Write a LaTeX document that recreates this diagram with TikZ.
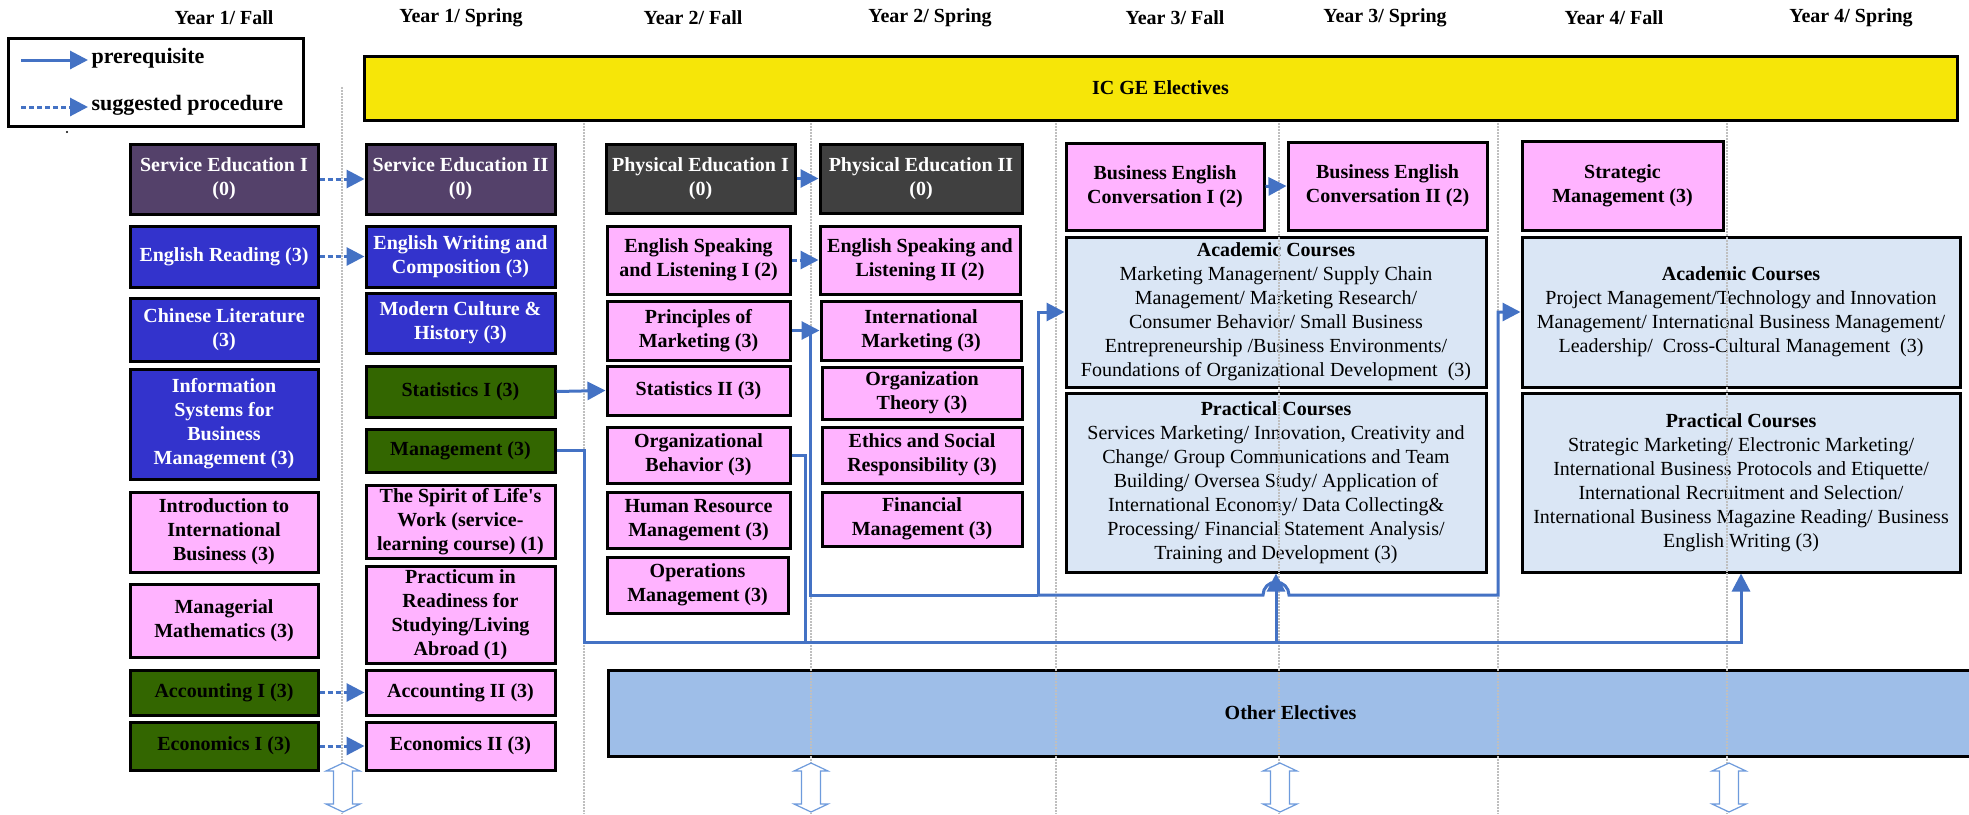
\documentclass[tikz,border=0pt]{standalone}
\usepackage{fontspec}
\setmainfont{Liberation Serif}
\usepackage{tikz}
\usetikzlibrary{shapes,arrows,arrows.meta,positioning,fit,calc}

\definecolor{arrowblue}{RGB}{68,114,196}
\definecolor{svcpurple}{RGB}{84,65,106}
\definecolor{corblue}{RGB}{51,51,204}
\definecolor{majpink}{RGB}{255,179,255}
\definecolor{basegreen}{RGB}{51,102,0}
\definecolor{pegray}{RGB}{64,64,64}
\definecolor{geyellow}{RGB}{246,230,8}
\definecolor{optblue}{RGB}{218,230,245}
\definecolor{elecblue}{RGB}{158,190,232}
\definecolor{hollowblue}{RGB}{110,155,220}

\newcommand{\crsfont}{\fontsize{20}{24}\selectfont}

\begin{document}
\begin{tikzpicture}[x=1pt,y=-1pt,
    course/.style={draw=black,line width=3pt,align=center,inner sep=1pt,font=\crsfont\bfseries},
    sized/.style 2 args={minimum width=#1pt,minimum height=#2pt},
    purplebox/.style={course,fill=svcpurple,text=white},
    bluebox/.style={course,fill=corblue,text=white},
    graybox/.style={course,fill=pegray,text=white},
    greenbox/.style={course,fill=basegreen},
    pinkbox/.style={course,fill=majpink},
    optbox/.style={draw=black,line width=3pt,align=center,inner sep=1pt,fill=optblue,font=\crsfont},
    prereq/.style={draw=arrowblue,line width=3pt,-{Triangle[length=18pt,width=18pt]}},
    suggest/.style={prereq,dash pattern=on 5pt off 3pt},
    link/.style={draw=arrowblue,line width=3pt},
    sep/.style={gray!50,line width=1.8pt,dash pattern=on 1.5pt off 1.5pt}]
            \fill[white] (0,0) rectangle (1969,814);
            \useasboundingbox (0,0) rectangle (1969,814);
            \node[optbox,sized={420}{150}] (acad3) at (1276,312) {\textbf{Academic Courses}\\Marketing Management/ Supply Chain\\Management/ Marketing Research/\\Consumer Behavior/ Small Business\\Entrepreneurship /Business Environments/\\Foundations of Organizational Development~~(3)};
            \node[optbox,sized={420}{179}] (prac3) at (1276,482.5) {\textbf{Practical Courses}\\Services Marketing/ Innovation, Creativity and\\Change/ Group Communications and Team\\Building/ Oversea Study/ Application of\\International Economy/ Data Collecting\&\\Processing/ Financial Statement Analysis/\\Training and Development (3)};
            \node[optbox,sized={438}{150}] (acad4) at (1741,312) {\textbf{Academic Courses}\\Project Management/Technology and Innovation\\Management/ International Business Management/\\Leadership/~~Cross-Cultural Management~~(3)};
            \node[optbox,sized={438}{179}] (prac4) at (1741,482.5) {\textbf{Practical Courses}\\Strategic Marketing/ Electronic Marketing/\\International Business Protocols and Etiquette/\\International Recruitment and Selection/\\International Business Magazine Reading/ Business\\English Writing (3)};
            \node[optbox,fill=elecblue,sized={1365}{86},font=\crsfont\bfseries] (other) at (1290.5,713) {Other Electives};
            \draw[sep] (342,87) -- (342,814);
            \foreach \x in {584,811,1056,1279,1498,1727} {
                \draw[sep] (\x,120) -- (\x,814);
            }
            \foreach \x/\t [count=\i] in {224/{Year 1/ Fall},461/{Year 1/ Spring},693/{Year 2/ Fall},930/{Year 2/ Spring},1175/{Year 3/ Fall},1385/{Year 3/ Spring},1614/{Year 4/ Fall},1851/{Year 4/ Spring}} {
                \node[font=\crsfont\bfseries] (hdr\i) at (\x,18) {\t};
            }
            \node[draw,line width=3pt,sized={295}{88}] (legend) at (155.5,82) {};
            \node[anchor=west,font=\fontsize{22}{26}\selectfont\bfseries] (lgpre) at (88,58) {prerequisite};
            \node[anchor=west,font=\fontsize{22}{26}\selectfont\bfseries] (lgsug) at (88,105) {suggested procedure};
            \coordinate (lgpreS) at (21,60);
            \coordinate (lgsugS) at (21,107);
            \draw[prereq] (lgpreS) -- (lgpre.west |- lgpreS);
            \draw[suggest] (lgsugS) -- (lgsug.west |- lgsugS);
            \fill (67,132) circle (1.2);
            \node[course,fill=geyellow,sized={1593}{64}] (icge) at (1160.5,88) {IC GE Electives};
            \node[purplebox,sized={188}{70}] (svc1) at (224,179) {Service Education I\\(0)};
            \node[bluebox,sized={188}{61}] (engread) at (224,256.5) {English Reading (3)};
            \node[bluebox,sized={188}{63}] (chinlit) at (224,329.5) {Chinese Literature\\(3)};
            \node[bluebox,sized={188}{110}] (infosys) at (224,424) {Information\\Systems for\\Business\\Management (3)};
            \node[pinkbox,sized={188}{80}] (introib) at (224,532) {Introduction to\\International\\Business (3)};
            \node[pinkbox,sized={188}{73}] (mgmath) at (224,620.5) {Managerial\\Mathematics (3)};
            \node[greenbox,sized={188}{45}] (acct1) at (224,692.5) {Accounting I (3)};
            \node[greenbox,sized={188}{48}] (econ1) at (224,746) {Economics I (3)};
            \node[purplebox,sized={189}{70}] (svc2) at (460.5,179) {Service Education II\\(0)};
            \node[bluebox,sized={189}{61}] (engwrite) at (460.5,256.5) {English Writing and\\Composition (3)};
            \node[bluebox,sized={189}{60}] (modcult) at (460.5,323) {Modern Culture \&\\History (3)};
            \node[greenbox,sized={189}{51}] (stats1) at (460.5,391.5) {Statistics I (3)};
            \node[greenbox,sized={189}{43}] (mgmt) at (460.5,450.5) {Management (3)};
            \node[pinkbox,sized={189}{73}] (spirit) at (460.5,521.5) {The Spirit of Life\textquotesingle s\\Work (service-\\learning course) (1)};
            \node[pinkbox,sized={189}{97}] (practicum) at (460.5,614.5) {Practicum in\\Readiness for\\Studying/Living\\Abroad (1)};
            \node[pinkbox,sized={189}{45}] (acct2) at (460.5,692.5) {Accounting II (3)};
            \node[pinkbox,sized={189}{48}] (econ2) at (460.5,746) {Economics II (3)};
            \node[graybox,sized={189}{69}] (pe1) at (700.5,178.5) {Physical Education I\\(0)};
            \node[pinkbox,sized={183}{68}] (esl1) at (698.5,260) {English Speaking\\and Listening I (2)};
            \node[pinkbox,sized={183}{59}] (pom) at (698.5,330.5) {Principles of\\Marketing (3)};
            \node[pinkbox,sized={183}{49}] (stats2) at (698.5,390.5) {Statistics II (3)};
            \node[pinkbox,sized={183}{56}] (orgbeh) at (698.5,455) {Organizational\\Behavior (3)};
            \node[pinkbox,sized={183}{56}] (hrm) at (698.5,520) {Human Resource\\Management (3)};
            \node[pinkbox,sized={181}{56}] (opsmgmt) at (697.5,585) {Operations\\Management (3)};
            \node[graybox,sized={202}{69}] (pe2) at (921,178.5) {Physical Education II\\(0)};
            \node[pinkbox,sized={200}{68}] (esl2) at (920,260) {English Speaking and\\Listening II (2)};
            \node[pinkbox,sized={200}{59}] (intmkt) at (921,330.5) {International\\Marketing (3)};
            \node[pinkbox,sized={200}{52}] (orgtheory) at (922,393) {Organization\\Theory (3)};
            \node[pinkbox,sized={200}{56}] (ethics) at (922,455) {Ethics and Social\\Responsibility (3)};
            \node[pinkbox,sized={200}{54}] (finmgmt) at (922,519) {Financial\\Management (3)};
            \node[pinkbox,sized={198}{87}] (bec1) at (1165,186.5) {Business English\\Conversation I (2)};
            \node[pinkbox,sized={199}{88}] (bec2) at (1387.5,186) {Business English\\Conversation II (2)};
            \node[pinkbox,sized={201}{89}] (strat) at (1622.5,185.5) {Strategic\\Management (3)};
            \foreach \a/\b in {svc1/svc2, engread/engwrite, acct1/acct2, econ1/econ2, pe1/pe2, esl1/esl2, bec1/bec2} {
                \draw[suggest] (\a.east) -- (\b.west);
            }
            \coordinate (mgmtbus) at (584,642);
            \coordinate (obdrop) at (805,642);
            \coordinate (mktdrop) at (810,595);
            \coordinate (j3) at (1038,595);
            \coordinate (j4) at (1498,595);
            \draw[prereq] (stats1.east) -- (stats2.west);
            \draw[prereq] (pom.east) -- (intmkt.west);
            \draw[link] (pom.east -| mktdrop) -- (mktdrop) -- (j3);
            \draw[prereq] (j3) |- (acad3.west);
            \draw[prereq] (j3) -- ($(prac3.south |- j3)+(-13,0)$) arc (180:360:13) -- (j4) |- (acad4.west);
            \draw[prereq] (mgmt.east) -| (mgmtbus) -| (prac4.south);
            \draw[link] (orgbeh.east) -| (obdrop);
            \draw[prereq] (prac3.south |- mgmtbus) -- (prac3.south);
            \foreach \x in {343,811,1280,1729} {
                \draw[hollowblue,fill=white,line width=1.2pt] (\x,763) -- ++(17,8) -- ++(-7.5,0) -- ++(0,33) -- ++(7.5,0) -- (\x,812) -- ++(-17,-8) -- ++(7.5,0) -- ++(0,-33) -- ++(-7.5,0) -- cycle;
            }
        \end{tikzpicture}
\end{document}
